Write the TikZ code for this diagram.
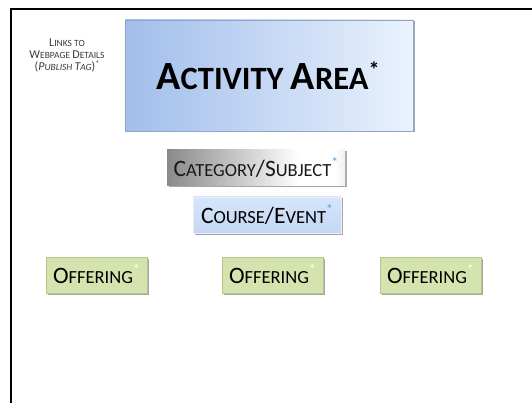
\documentclass[tikz,border=0pt]{standalone}
\usepackage{fontspec}
\setmainfont{Carlito}
\usetikzlibrary{shadows}
\definecolor{areaL}{HTML}{A2BEEB}
\definecolor{areaR}{HTML}{EAF2FD}
\definecolor{areaEdge}{HTML}{8FA6C6}
\definecolor{courseT}{HTML}{D6E5FA}
\definecolor{courseB}{HTML}{C3D8F5}
\definecolor{offerFill}{HTML}{D5E4AE}
\definecolor{offerEdge}{HTML}{B3C78C}
\definecolor{starBlue}{HTML}{4FA3E0}
\definecolor{linkText}{HTML}{3A3A3A}
\pgfdeclarehorizontalshading{metal}{100bp}{color(0bp)=(black!50); color(22bp)=(black!50); color(62bp)=(white); color(72bp)=(white); color(100bp)=(black!55)}
% fake small caps: #1 cap size, #2 small size, #3 capital, #4 small letters
\newcommand\fsc[4]{{\fontsize{#1}{#1}\selectfont #3}{\fontsize{#2}{#2}\selectfont #4}}
\tikzset{
  boxshadow/.style={drop shadow={shadow xshift=1.5pt, shadow yshift=-1.5pt, opacity=0.35, fill=black}},
  areabox/.style={draw=areaEdge, line width=0.6pt, left color=areaL, right color=areaR, boxshadow},
  metalbox/.style={shading=metal, shading angle=0, boxshadow},
  coursebox/.style={draw=courseB!80!black!20, line width=0.3pt, top color=courseT, bottom color=courseB, boxshadow},
  offerbox/.style={draw=offerEdge, line width=0.5pt, fill=offerFill, boxshadow},
  lbl/.style={inner sep=0pt, anchor=center},
}
\begin{document}
\begin{tikzpicture}[x=1pt, y=-1pt]
\useasboundingbox (0,0) rectangle (532,403);
% page frame (top and left edges)
\draw[line width=2pt] (10.5,403) -- (10.5,9.5) -- (532,9.5);

% boxes
\path[areabox] (125,20) rectangle (413,131);
\path[metalbox] (167,150) rectangle (345,186);
\path[coursebox] (193,197) rectangle (341,233);
\path[offerbox] (46,257) rectangle (147,293);
\path[offerbox] (222,257) rectangle (323,293);
\path[offerbox] (380,257) rectangle (481,293);

% labels
\node[lbl, text=linkText, align=center, font=\fontsize{12}{12}\selectfont] (links) at (67,55)
  {\fsc{12}{9.5}{L}{INKS TO}\\ \fsc{12}{9.5}{W}{EBPAGE }\fsc{12}{9.5}{D}{ETAILS}\\ (\textit{\fsc{12}{9.5}{P}{UBLISH }\fsc{12}{9.5}{T}{AG}})\raisebox{4pt}{\fontsize{8}{8}\selectfont *}};
\node[lbl, font=\bfseries] (area) at (268,76)
  {\fsc{40}{32.5}{A}{CTIVITY }\fsc{40}{32.5}{A}{REA}\raisebox{12pt}{\fontsize{22}{22}\selectfont *}};
\node[lbl, text=black!90] (cat) at (256,168)
  {\fsc{23.5}{18.5}{C}{ATEGORY}\fsc{23.5}{18.5}{/S}{UBJECT}\raisebox{9pt}{\fontsize{14}{14}\selectfont\textcolor{starBlue}{*}}};
\node[lbl] (course) at (267,215)
  {\fsc{23.5}{18.5}{C}{OURSE}\fsc{23.5}{18.5}{/E}{VENT}\raisebox{9pt}{\fontsize{14}{14}\selectfont\textcolor{starBlue}{*}}};
\foreach \n/\x in {o1/96.5, o2/272.5, o3/430.5}
  \node[lbl] (\n) at (\x,274)
    {\fsc{23.5}{18.5}{O}{FFERING}\raisebox{9pt}{\fontsize{14}{14}\selectfont\textcolor{white}{*}}};
\end{tikzpicture}
\end{document}
